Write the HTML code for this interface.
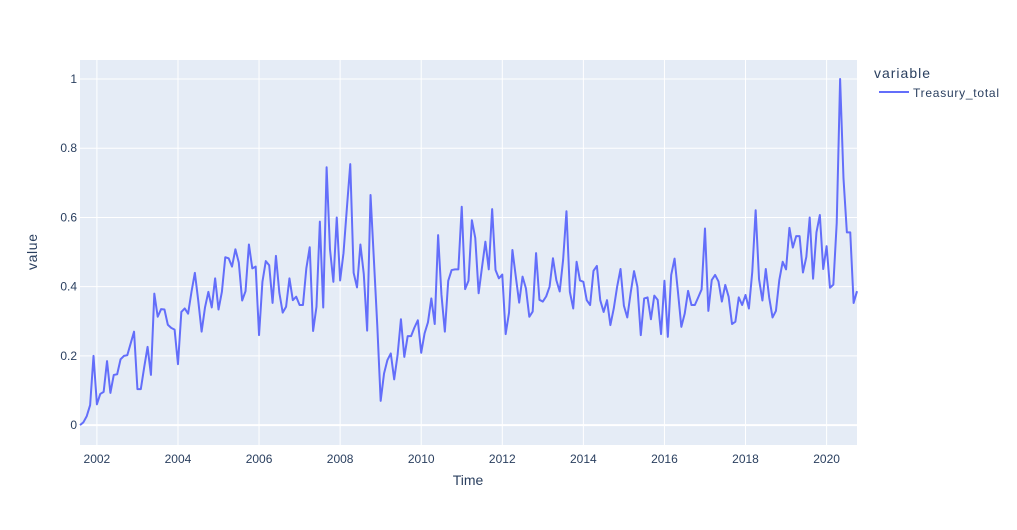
<!DOCTYPE html>
<html><head><meta charset="utf-8"><style>
body{margin:0;background:#fff;}
svg text{font-family:"Liberation Sans",sans-serif;fill:#2a3f5f;}
</style></head><body>
<svg id="chart" width="1017" height="525" xmlns="http://www.w3.org/2000/svg">
<rect x="80" y="60" width="777" height="385" fill="#e5ecf6"/>
<g id="grid"></g><g id="ticks"></g>
<path id="series" fill="none" stroke="#636efa" stroke-width="2" stroke-linejoin="round"/>
<text x="37" y="252" font-size="14" text-anchor="middle" transform="rotate(-90 37 252)" textLength="36">value</text>
<text x="468" y="485" font-size="14" text-anchor="middle">Time</text>
<g>
<text x="874" y="78" font-size="14" textLength="56">variable</text>
<line x1="879" y1="92" x2="909" y2="92" stroke="#636efa" stroke-width="2"/>
<text x="913" y="97" font-size="12" textLength="86">Treasury_total</text>
</g>
</svg>
<script>
const startYear = 2001, startMonth = 8;
const values = [0,.008,.026,.058,.20,.06,.09,.096,.185,.093,.145,.147,.19,.20,.202,.236,.27,.104,.104,.167,.226,.145,.38,.313,.335,.334,.29,.281,.276,.176,.327,.337,.322,.385,.44,.36,.27,.34,.385,.34,.424,.334,.385,.485,.482,.458,.508,.47,.36,.387,.522,.453,.458,.26,.414,.474,.462,.353,.489,.383,.325,.342,.424,.361,.371,.347,.347,.453,.514,.272,.342,.588,.34,.745,.508,.414,.6,.418,.497,.627,
.754,.44,.398,.522,.437,.273,.665,.477,.287,.07,.149,.188,.207,.132,.202,.306,.197,.257,.257,.282,.303,.209,.265,.297,.366,.292,.549,.376,.27,.417,.448,.45,.45,.631,.393,.417,.592,.541,.381,.456,.53,.45,.624,.448,.424,.435,.263,.325,.506,.429,.354,.429,.395,.313,.328,.497,.362,.357,.372,.4,.482,.419,.386,.477,.618,.385,.337,.472,.418,.414,.361,.347,.446,.46,.361,
.327,.361,.289,.337,.4,.451,.345,.311,.382,.445,.4,.26,.366,.369,.306,.374,.362,.263,.417,.255,.434,.481,.385,.284,.322,.388,.347,.347,.369,.392,.568,.33,.419,.434,.415,.357,.405,.371,.292,.299,.369,.347,.376,.337,.443,.621,.422,.36,.451,.369,.311,.33,.419,.472,.45,.57,.513,.546,.546,.441,.486,.6,.423,.557,.607,.451,.517,.397,.406,.585,1.0,.713,.557,.557,.353,.387];
const yTicks = [0,0.2,0.4,0.6,0.8,1];
const yTickLabels = ["0","0.2","0.4","0.6","0.8","1"];
const xTicks = [2002,2004,2006,2008,2010,2012,2014,2016,2018,2020];

const NS="http://www.w3.org/2000/svg";
const t0 = startYear + (startMonth-1)/12;
const t1 = t0 + (values.length-1)/12;
const X = t => 80 + (t - t0)/(t1 - t0)*777;
const Y = v => 445 - (v + 0.0575)/(1.1125)*385;
const grid=document.getElementById('grid'), ticks=document.getElementById('ticks');
function mk(tag, attrs, parent){const e=document.createElementNS(NS,tag);for(const k in attrs)e.setAttribute(k,attrs[k]);parent.appendChild(e);return e;}
yTicks.forEach((v,i)=>{
  const l=mk('line',{x1:80,x2:857,y1:Y(v),y2:Y(v),stroke:'#fff','stroke-width':v===0?2:1},grid);
  
  
  const t=mk('text',{x:77,y:Y(v)+4,'font-size':12,'text-anchor':'end'},ticks);
  
  
  t.textContent=yTickLabels[i];
});
xTicks.forEach(yr=>{
  const l=mk('line',{x1:X(yr),x2:X(yr),y1:60,y2:445,stroke:'#fff','stroke-width':1},grid);
  
  
  const t=mk('text',{x:X(yr),y:463,'font-size':12,'text-anchor':'middle'},ticks);
  
  
  t.textContent=yr;
});
document.getElementById('series').setAttribute('d', values.map((v,i)=>(i?'L':'M')+X(t0+i/12).toFixed(2)+','+Y(v).toFixed(2)).join(''));
</script>
</body></html>
